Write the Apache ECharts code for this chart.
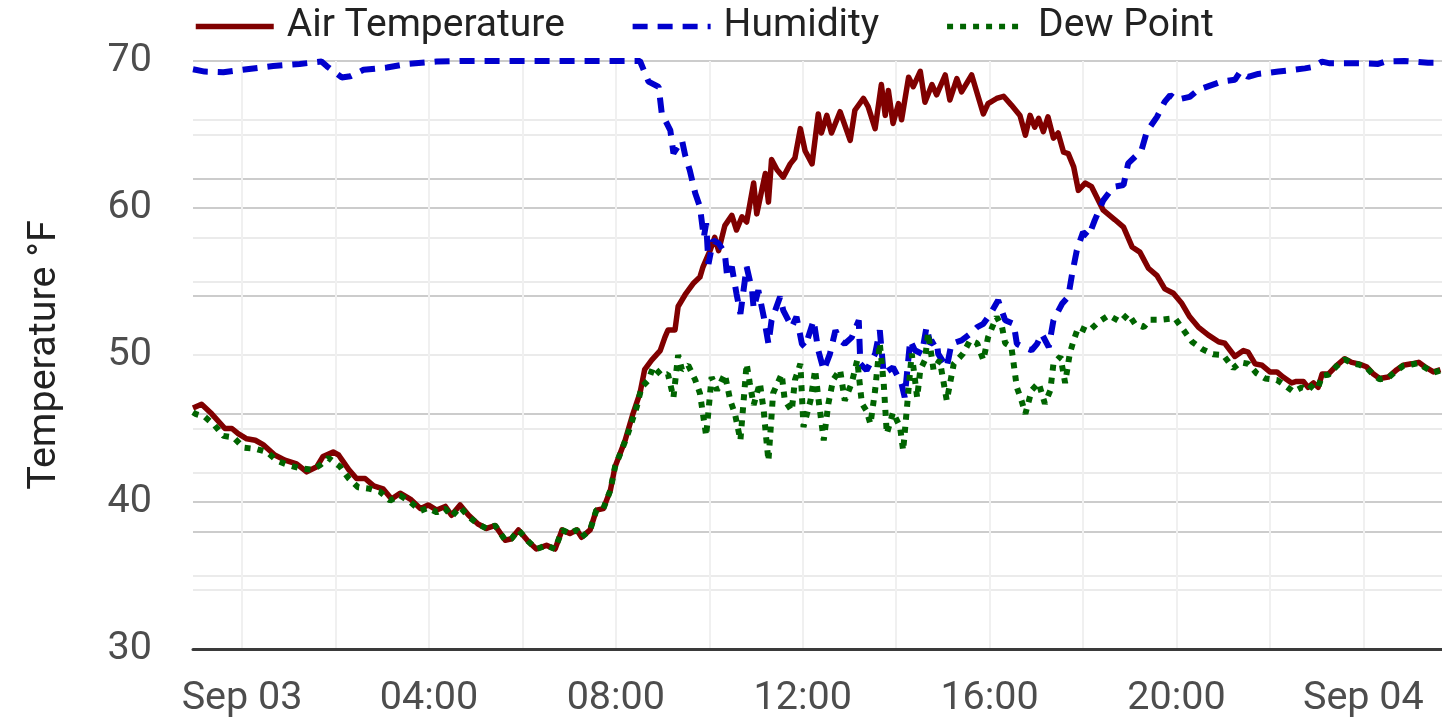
<!DOCTYPE html>
<html>
<head>
<meta charset="utf-8">
<title>Air Temperature, Humidity, Dew Point</title>
<script src="https://cdn.jsdelivr.net/npm/echarts@6/dist/echarts.min.js"></script>
<style>
  html, body { margin: 0; padding: 0; background: #fff; }
  #chart { width: 1442px; height: 722px; }
</style>
</head>
<body>
<div id="chart"></div>
<script>
// times are "day HH:mm" in September; temperatures in °F, humidity in %
var airTemp = [
  ['2 22:57',46.4],['2 23:08',46.65],['2 23:21',46.0],['2 23:38',45.0],['2 23:47',45.0],['2 23:55',44.65],
  ['3 00:06',44.3],['3 00:17',44.2],['3 00:27',43.9],['3 00:42',43.2],['3 00:55',42.85],['3 01:10',42.6],
  ['3 01:23',42.05],['3 01:36',42.4],['3 01:44',43.1],['3 01:57',43.4],['3 02:04',43.2],['3 02:17',42.2],
  ['3 02:27',41.6],['3 02:38',41.6],['3 02:49',41.1],['3 03:01',40.9],['3 03:12',40.2],['3 03:23',40.6],
  ['3 03:36',40.2],['3 03:49',39.55],['3 03:59',39.8],['3 04:10',39.45],['3 04:21',39.7],['3 04:29',39.1],
  ['3 04:40',39.8],['3 04:51',39.1],['3 05:03',38.5],['3 05:14',38.2],['3 05:25',38.4],['3 05:38',37.4],
  ['3 05:46',37.5],['3 05:55',38.1],['3 06:08',37.3],['3 06:18',36.8],['3 06:31',37.05],['3 06:42',36.8],
  ['3 06:51',38.1],['3 07:01',37.85],['3 07:10',38.1],['3 07:16',37.6],['3 07:27',38.1],['3 07:35',39.45],
  ['3 07:44',39.55],['3 07:53',40.8],['3 07:59',42.4],['3 08:12',44.2],['3 08:22',46.0],['3 08:31',47.4],
  ['3 08:37',49.0],['3 08:46',49.65],['3 08:57',50.3],['3 09:03',51.2],['3 09:07',51.7],['3 09:16',51.7],
  ['3 09:20',53.3],['3 09:29',54.1],['3 09:40',54.9],['3 09:48',55.3],['3 09:52',56.0],['3 10:01',57.1],
  ['3 10:07',58.0],['3 10:12',57.1],['3 10:20',58.8],['3 10:29',59.5],['3 10:35',58.5],['3 10:42',59.4],
  ['3 10:48',59.05],['3 10:57',61.7],['3 11:01',59.6],['3 11:12',62.35],['3 11:16',60.4],['3 11:20',63.3],
  ['3 11:27',62.6],['3 11:35',62.1],['3 11:44',63.0],['3 11:50',63.4],['3 11:57',65.4],['3 12:03',63.9],
  ['3 12:12',63.0],['3 12:20',66.4],['3 12:24',65.1],['3 12:31',66.3],['3 12:37',65.1],['3 12:48',66.55],
  ['3 13:01',64.6],['3 13:07',66.65],['3 13:18',67.45],['3 13:24',66.9],['3 13:33',65.4],['3 13:41',68.4],
  ['3 13:46',66.3],['3 13:50',68.0],['3 13:56',65.75],['3 14:03',67.1],['3 14:07',66.0],['3 14:16',68.9],
  ['3 14:22',68.25],['3 14:31',69.3],['3 14:37',67.2],['3 14:46',68.4],['3 14:52',67.7],['3 15:03',69.05],
  ['3 15:09',67.35],['3 15:18',68.8],['3 15:24',67.9],['3 15:37',69.05],['3 15:44',67.8],['3 15:52',66.4],
  ['3 15:58',67.1],['3 16:09',67.45],['3 16:18',67.6],['3 16:28',67.0],['3 16:39',66.3],['3 16:46',64.95],
  ['3 16:52',66.3],['3 16:58',65.5],['3 17:03',66.1],['3 17:09',65.2],['3 17:15',66.2],['3 17:22',64.75],
  ['3 17:28',65.1],['3 17:35',63.8],['3 17:41',63.7],['3 17:48',62.8],['3 17:54',61.2],['3 18:03',61.7],
  ['3 18:11',61.45],['3 18:26',59.85],['3 18:41',59.2],['3 18:52',58.7],['3 19:03',57.35],['3 19:13',57.0],
  ['3 19:24',55.9],['3 19:35',55.4],['3 19:45',54.5],['3 19:56',54.2],['3 20:07',53.5],['3 20:17',52.6],
  ['3 20:28',51.9],['3 20:41',51.35],['3 20:54',50.9],['3 21:02',50.8],['3 21:15',49.9],['3 21:26',50.3],
  ['3 21:32',50.2],['3 21:41',49.4],['3 21:50',49.3],['3 22:00',48.85],['3 22:09',48.85],['3 22:17',48.5],
  ['3 22:28',48.1],['3 22:34',48.2],['3 22:43',48.2],['3 22:49',47.8],['3 22:56',48.1],['3 23:02',47.8],
  ['3 23:07',48.7],['3 23:15',48.7],['3 23:26',49.3],['3 23:36',49.75],['3 23:45',49.5],['3 23:54',49.4],
  ['4 00:04',49.2],['4 00:13',48.7],['4 00:21',48.4],['4 00:32',48.5],['4 00:43',49.0],['4 00:51',49.3],
  ['4 01:02',49.4],['4 01:11',49.5],['4 01:19',49.2],['4 01:30',48.85],['4 01:39',49.0]
];

var humidity = [
  ['2 22:57',98.6],['2 23:12',98.2],['2 23:36',98.1],['3 00:06',98.6],['3 00:40',99.15],['3 01:14',99.5],
  ['3 01:42',99.9],['3 01:49',99.1],['3 02:08',97.2],['3 02:19',97.4],['3 02:36',98.5],['3 03:06',98.9],
  ['3 03:32',99.5],['3 04:10',99.9],['3 04:40',100],['3 08:31',100],['3 08:42',96.5],['3 08:55',95.6],
  ['3 08:59',91.1],['3 09:10',88.2],['3 09:14',84.3],['3 09:25',86.5],['3 09:29',84.0],['3 09:35',81.4],
  ['3 09:42',77.5],['3 09:48',75.2],['3 09:53',70.0],['3 09:56',72.4],['3 09:59',65.5],['3 10:05',69.5],
  ['3 10:12',69.0],['3 10:20',67.3],['3 10:23',63.3],['3 10:29',65.0],['3 10:35',60.4],['3 10:40',57.0],
  ['3 10:48',65.0],['3 10:55',61.0],['3 10:57',57.9],['3 11:03',61.0],['3 11:10',56.5],['3 11:16',51.9],
  ['3 11:20',55.9],['3 11:31',59.9],['3 11:35',57.6],['3 11:46',54.75],['3 11:52',56.5],['3 11:59',51.9],
  ['3 12:03',51.35],['3 12:14',55.9],['3 12:20',50.8],['3 12:27',47.4],['3 12:35',50.2],['3 12:42',54.2],
  ['3 12:48',52.5],['3 12:54',51.9],['3 13:03',53.0],['3 13:12',55.9],['3 13:14',48.5],['3 13:22',47.4],
  ['3 13:33',50.2],['3 13:39',54.2],['3 13:44',46.8],['3 13:56',47.9],['3 14:07',45.1],['3 14:11',42.8],
  ['3 14:18',52.5],['3 14:24',50.8],['3 14:33',50.2],['3 14:39',54.75],['3 14:44',51.9],['3 14:52',52.5],
  ['3 14:54',50.2],['3 15:05',47.9],['3 15:11',51.9],['3 15:24',52.5],['3 15:35',53.6],['3 15:44',54.75],
  ['3 15:52',55.3],['3 16:01',57.0],['3 16:11',59.3],['3 16:20',55.9],['3 16:31',55.3],['3 16:35',51.9],
  ['3 16:43',51.35],['3 16:54',50.8],['3 17:01',51.9],['3 17:07',53.6],['3 17:16',51.35],['3 17:22',55.9],
  ['3 17:33',58.7],['3 17:41',59.9],['3 17:46',63.8],['3 17:52',67.8],['3 18:00',70.9],['3 18:07',70.1],
  ['3 18:15',72.9],['3 18:26',76.3],['3 18:39',78.6],['3 18:52',78.9],['3 18:58',82.6],['3 19:09',84.0],
  ['3 19:15',84.8],['3 19:22',88.0],['3 19:35',90.5],['3 19:45',93.1],['3 19:52',94.2],['3 20:00',93.4],
  ['3 20:17',93.9],['3 20:28',95.1],['3 20:45',95.9],['3 20:58',96.5],['3 21:15',96.8],['3 21:22',98.2],
  ['3 21:32',97.3],['3 21:45',97.8],['3 22:11',98.2],['3 22:22',98.35],['3 22:45',98.75],['3 22:56',99.0],
  ['3 23:07',99.9],['3 23:17',99.6],['3 23:45',99.6],['4 00:02',99.6],['4 00:19',99.5],['4 00:28',99.9],
  ['4 00:53',100],['4 01:23',99.7],['4 01:39',99.7]
];

var dewPoint = [
  ['2 22:57',46.1],['2 23:00',46.0],['2 23:12',45.8],['2 23:25',45.2],['2 23:36',44.5],['2 23:49',44.4],
  ['3 00:02',43.7],['3 00:19',43.6],['3 00:32',43.4],['3 00:45',42.8],['3 01:00',42.5],['3 01:14',42.3],
  ['3 01:30',42.2],['3 01:40',42.5],['3 01:51',43.0],['3 02:06',42.4],['3 02:17',41.6],['3 02:29',41.0],
  ['3 02:44',40.9],['3 02:57',40.7],['3 03:10',40.1],['3 03:23',40.45],['3 03:36',40.0],['3 03:49',39.4],
  ['3 03:59',39.6],['3 04:10',39.3],['3 04:21',39.55],['3 04:29',39.0],['3 04:40',39.65],['3 04:51',39.0],
  ['3 05:03',38.5],['3 05:14',38.2],['3 05:25',38.4],['3 05:38',37.4],['3 05:46',37.5],['3 05:55',38.1],
  ['3 06:08',37.3],['3 06:18',36.8],['3 06:31',37.05],['3 06:42',36.8],['3 06:51',38.1],['3 07:01',37.85],
  ['3 07:10',38.1],['3 07:16',37.6],['3 07:27',38.1],['3 07:35',39.45],['3 07:44',39.55],['3 07:53',40.8],
  ['3 07:59',42.4],['3 08:14',44.4],['3 08:27',46.5],['3 08:33',47.8],['3 08:42',48.3],['3 08:48',49.2],
  ['3 08:59',48.6],['3 09:07',48.7],['3 09:14',47.1],['3 09:20',50.0],['3 09:25',49.0],['3 09:33',49.3],
  ['3 09:42',48.3],['3 09:48',47.4],['3 09:56',44.5],['3 10:03',48.5],['3 10:10',47.6],['3 10:20',48.7],
  ['3 10:27',46.9],['3 10:33',46.0],['3 10:40',44.2],['3 10:48',49.4],['3 10:52',48.1],['3 10:57',46.6],
  ['3 11:05',48.1],['3 11:10',46.2],['3 11:13',44.4],['3 11:16',42.8],['3 11:22',47.4],['3 11:33',48.7],
  ['3 11:37',46.9],['3 11:46',46.2],['3 11:50',48.3],['3 11:57',49.4],['3 12:01',45.1],['3 12:10',46.9],
  ['3 12:16',49.0],['3 12:20',47.1],['3 12:27',44.2],['3 12:33',46.7],['3 12:39',48.3],['3 12:48',49.0],
  ['3 12:54',46.9],['3 13:03',48.1],['3 13:10',49.65],['3 13:16',46.7],['3 13:22',46.2],['3 13:27',45.3],
  ['3 13:33',47.6],['3 13:39',50.8],['3 13:44',48.1],['3 13:48',44.65],['3 13:56',46.1],['3 14:05',45.1],
  ['3 14:09',43.5],['3 14:14',46.5],['3 14:20',50.1],['3 14:27',47.1],['3 14:31',49.0],['3 14:37',49.65],
  ['3 14:41',51.5],['3 14:48',49.0],['3 14:56',49.65],['3 15:05',46.9],['3 15:14',49.4],['3 15:26',50.1],
  ['3 15:35',51.0],['3 15:44',50.8],['3 15:52',49.65],['3 15:58',51.2],['3 16:09',52.6],['3 16:16',51.9],
  ['3 16:20',50.8],['3 16:28',50.55],['3 16:35',47.8],['3 16:41',46.9],['3 16:46',46.0],['3 16:54',47.6],
  ['3 17:03',48.1],['3 17:11',46.7],['3 17:18',47.6],['3 17:22',49.4],['3 17:31',49.9],['3 17:37',48.1],
  ['3 17:43',50.1],['3 17:48',51.0],['3 17:54',51.9],['3 18:07',51.6],['3 18:20',52.25],['3 18:33',52.7],
  ['3 18:48',52.25],['3 18:58',52.8],['3 19:07',52.1],['3 19:18',51.9],['3 19:26',52.4],['3 19:41',52.4],
  ['3 19:58',52.5],['3 20:09',51.7],['3 20:20',50.9],['3 20:33',50.4],['3 20:47',50.05],['3 21:00',50.0],
  ['3 21:13',49.1],['3 21:22',49.5],['3 21:32',49.4],['3 21:43',48.75],['3 21:54',48.4],['3 22:09',48.3],
  ['3 22:19',47.95],['3 22:30',47.5],['3 22:41',47.8],['3 22:49',47.6],['3 22:56',48.0],['3 23:02',47.8],
  ['3 23:07',48.6],['3 23:15',48.65],['3 23:26',49.25],['3 23:36',49.7],['3 23:45',49.45],['3 23:54',49.35],
  ['4 00:04',49.15],['4 00:13',48.65],['4 00:21',48.35],['4 00:32',48.45],['4 00:43',48.95],['4 00:51',49.25],
  ['4 01:02',49.35],['4 01:11',49.45],['4 01:19',49.15],['4 01:30',48.8],['4 01:39',48.95]
];

var xRange = ['2 22:57', '4 01:41'];
var labelTimes = ['3 00:00','3 04:00','3 08:00','3 12:00','3 16:00','3 20:00','4 00:00'];
var gridTimes = ['3 00:00','3 02:00','3 04:00','3 06:00','3 08:00','3 10:00','3 12:00',
                 '3 14:00','3 16:00','3 18:00','3 20:00','3 22:00','4 00:00'];

function toTime(s) {
    var parts = s.split(' ');
    var hm = parts[1].split(':');
    return new Date(2023, 8, +parts[0], +hm[0], +hm[1]).getTime();
}
function toSeries(arr) {
    return arr.map(function (p) { return [toTime(p[0]), p[1]]; });
}
function pad(n) { return n < 10 ? '0' + n : '' + n; }

var fontName = 'Roboto, "Noto Sans", sans-serif';
var fontSize = 39.5;
var majorGrid = { color: '#cccccc', width: 2 };
var minorGrid = { color: '#ebebeb', width: 2 };

var myChart = echarts.init(document.getElementById('chart'));
var option = {
    animation: false,
    backgroundColor: '#ffffff',
    textStyle: { fontFamily: fontName },
    legend: {
        left: 193,
        top: 7,
        padding: 0,
        itemWidth: 78,
        itemHeight: 0.1,   // tiny, so the legend shows only the line
        itemGap: 65,
        lineStyle: { width: 5.5 },
        textStyle: { fontSize: 39, color: '#222222', fontFamily: fontName, padding: [0, 0, 0, 8] },
        data: ['Air Temperature', 'Humidity', 'Dew Point']
    },
    grid: { left: 193, right: 0, top: 61, bottom: 73 },
    xAxis: {
        // numeric time stamps, so the label and grid positions can be given directly
        type: 'value',
        min: toTime(xRange[0]),
        max: toTime(xRange[1]),
        axisLine: { show: true, onZero: false, lineStyle: { color: '#3a3a3a', width: 3 } },
        axisTick: { show: false, customValues: gridTimes.map(toTime) },
        axisLabel: {
            customValues: labelTimes.map(toTime),
            fontSize: fontSize,
            color: '#4d4d4d',
            fontFamily: fontName,
            margin: 30,
            formatter: function (val) {
                var d = new Date(val);
                if (d.getHours() === 0 && d.getMinutes() === 0) {
                    return 'Sep ' + pad(d.getDate());
                }
                return pad(d.getHours()) + ':' + pad(d.getMinutes());
            }
        },
        splitLine: { show: true, lineStyle: { color: '#f0f0f0', width: 2 } }
    },
    yAxis: [
        {
            type: 'value',
            min: 30,
            max: 70,
            interval: 10,
            name: 'Temperature °F',
            nameLocation: 'middle',
            nameGap: 128,
            nameTextStyle: { fontSize: fontSize, color: '#222222', fontFamily: fontName },
            axisLine: { show: false },
            axisTick: { show: false },
            axisLabel: { fontSize: fontSize, color: '#4d4d4d', fontFamily: fontName, margin: 41 },
            splitLine: { show: true, lineStyle: majorGrid },
            minorTick: { show: false, splitNumber: 2 },
            minorSplitLine: { show: true, lineStyle: minorGrid }
        },
        {
            type: 'value',
            position: 'right',
            min: 0,
            max: 100,
            interval: 20,
            axisLine: { show: false },
            axisTick: { show: false },
            axisLabel: { show: false },
            splitLine: { show: true, lineStyle: majorGrid },
            minorTick: { show: false, splitNumber: 2 },
            minorSplitLine: { show: true, lineStyle: minorGrid }
        }
    ],
    series: [
        {
            name: 'Air Temperature',
            type: 'line',
            yAxisIndex: 0,
            data: toSeries(airTemp),
            symbol: 'none',
            clip: false,
            color: '#800000',
            lineStyle: { color: '#800000', width: 5.5, join: 'round' }
        },
        {
            name: 'Humidity',
            type: 'line',
            yAxisIndex: 1,
            data: toSeries(humidity),
            symbol: 'none',
            clip: false,
            color: '#0000cd',
            lineStyle: { color: '#0000cd', width: 6, type: [15, 10] }
        },
        {
            name: 'Dew Point',
            type: 'line',
            yAxisIndex: 0,
            data: toSeries(dewPoint),
            symbol: 'none',
            clip: false,
            color: '#006400',
            lineStyle: { color: '#006400', width: 6, type: [6, 7] }
        }
    ]
};
myChart.setOption(option);
</script>
</body>
</html>
